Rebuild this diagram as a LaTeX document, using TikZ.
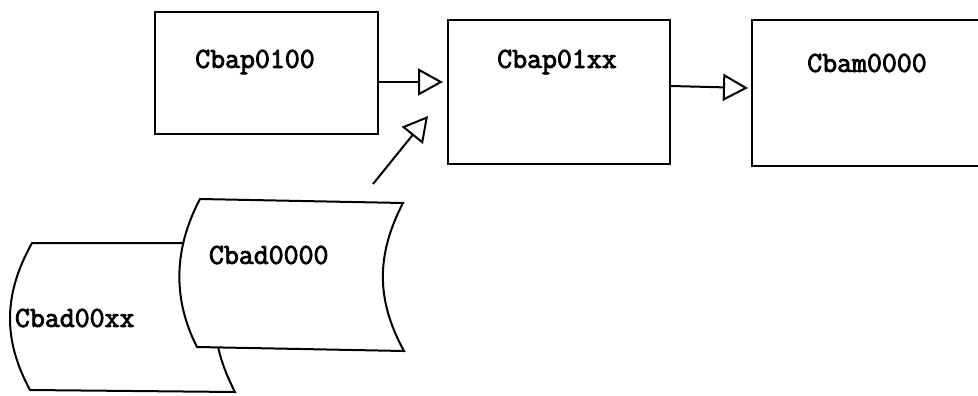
\documentclass[tikz,border=0pt]{standalone}
\usepackage{fontspec}
\newfontfamily\codefont[FakeBold=3]{Latin Modern Mono}
\usetikzlibrary{arrows.meta}
\begin{document}
\begin{tikzpicture}[x=1pt,y=-1pt,
  line width=2pt,
  lbl/.style={font=\codefont\fontsize{29}{32}\selectfont, inner sep=0pt},
  boxnode/.style={draw, rectangle, inner sep=0pt},
  opentip/.style={-{Triangle[open,length=25pt,width=27pt,line width=2pt]}}
]
\useasboundingbox (0,0) rectangle (978,396);
\clip (0,0) rectangle (978,396);
% boxes
\node[boxnode, minimum width=223pt, minimum height=122pt] (p1) at (266.5,73) {};
\node[boxnode, minimum width=222pt, minimum height=144pt] (p2) at (559,92) {};
\node[boxnode, minimum width=240pt, minimum height=146pt] (m0) at (872,93) {};
\node[lbl] (t1) at (255,62) {Cbap0100};
\node[lbl] (t2) at (557,62) {Cbap01xx};
\node[lbl] (t3) at (867,63) {Cbam0000};
% back document
\draw[fill=white] (32,243) -- (237,243)
  .. controls (208,295) and (208,340) .. (235,392)
  -- (30,390)
  .. controls (3,340) and (3,295) .. (32,243) -- cycle;
% front document
\draw[fill=white] (200,199) -- (403,203)
  .. controls (376,255) and (376,300) .. (404,351)
  -- (197,347)
  .. controls (173,300) and (173,250) .. (200,199) -- cycle;
\node[lbl, anchor=west] (d1) at (208,255) {Cbad0000};
\node[lbl, anchor=west] (d2) at (14,318) {Cbad00xx};
% arrows
\coordinate (a1s) at (p1.east |- 0,82);
\coordinate (a1e) at (443,82);
\draw[opentip] (a1s) -- (a1e);
\coordinate (a2s) at (p2.east |- 0,86);
\coordinate (a2e) at (748,88);
\draw[opentip] (a2s) -- (a2e);
\coordinate (dtail) at (373,184);
\coordinate (dtip) at (428,116);
\draw[opentip] (dtail) -- (dtip);
\end{tikzpicture}
\end{document}
